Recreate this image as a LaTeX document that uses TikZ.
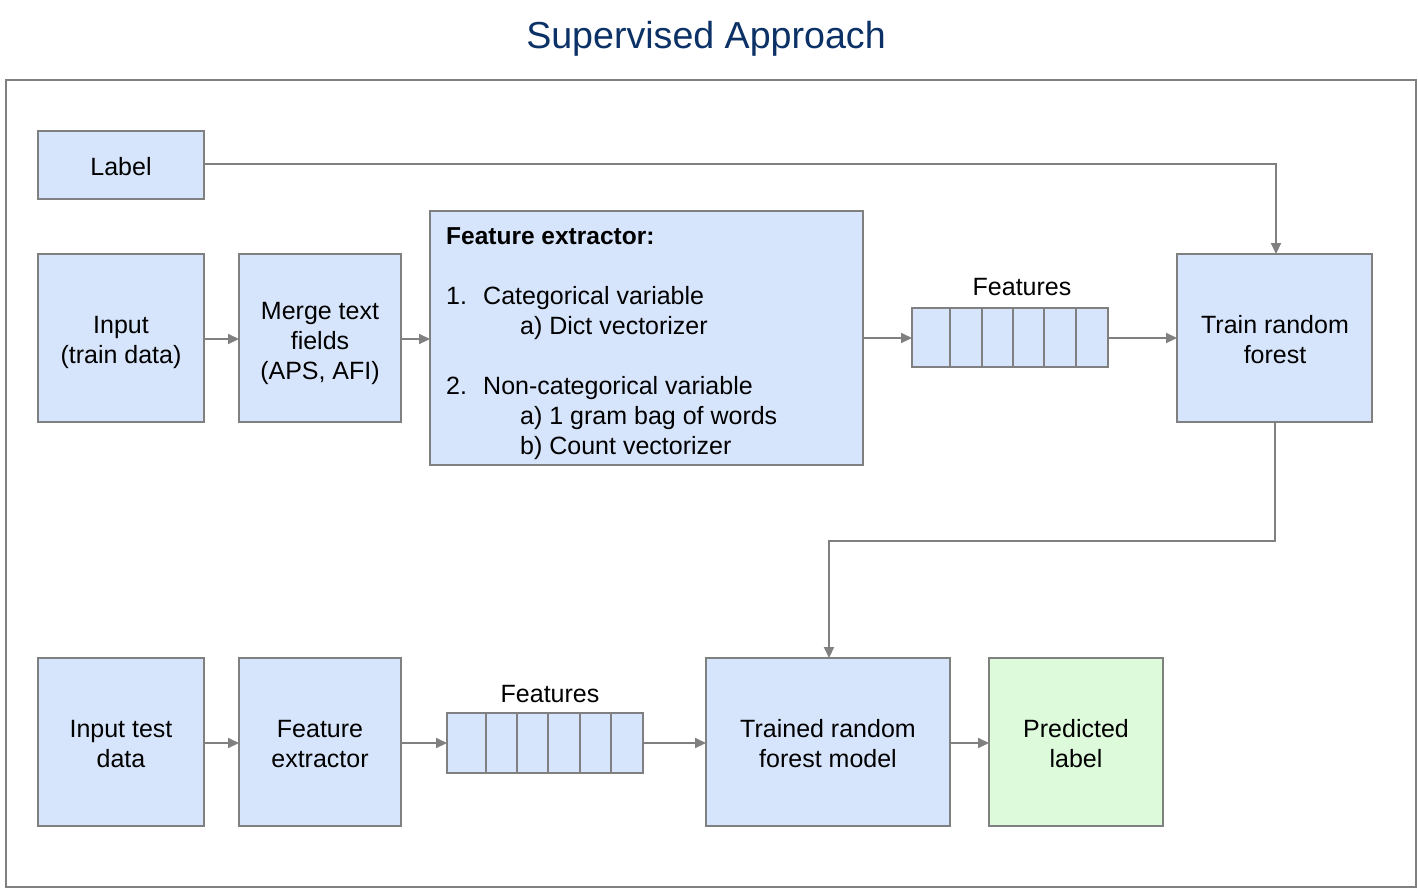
\documentclass[tikz,border=0pt]{standalone}
\usepackage{fontspec}
\setmainfont{Liberation Sans}
\usetikzlibrary{arrows.meta}
\definecolor{boxblue}{HTML}{D7E5FC}
\definecolor{boxgreen}{HTML}{DDFADB}
\definecolor{linegray}{HTML}{808080}
\definecolor{titleblue}{HTML}{0B3166}
\tikzset{
  box/.style={draw=linegray, line width=2pt, fill=boxblue, inner sep=0pt},
  gbox/.style={draw=linegray, line width=2pt, fill=boxgreen, inner sep=0pt},
  cell/.style={draw=linegray, line width=2pt, fill=boxblue},
  txt/.style={font=\fontsize{25}{30}\selectfont, align=center, inner sep=0pt},
  ltxt/.style={font=\fontsize{25}{30}\selectfont, anchor=base west, inner sep=0pt},
  conn/.style={draw=linegray, line width=2pt, -{Triangle[length=11pt,width=10pt]}},
}
\begin{document}
\begin{tikzpicture}[x=1pt,y=-1pt]
\useasboundingbox (0,0) rectangle (1418,889);
% title
\node[font=\fontsize{37.6}{40}\selectfont, text=titleblue, inner sep=0pt] (title) at (706,39) {Supervised Approach};
% frame
\draw[draw=linegray, line width=2pt] (6,80) rectangle (1416,887);
% top boxes
\draw[box] (38,131) rectangle (204,199);
\node[txt] (label) at (121,167) {Label};
\coordinate (labelR) at (204,164);
\draw[box] (38,254) rectangle (204,422);
\node[txt] (input) at (121,342) {Input\\(train data)};
\draw[box] (239,254) rectangle (401,422);
\node[txt] (merge) at (320,343) {Merge text\\fields\\(APS, AFI)};
\draw[box] (430,211) rectangle (863,465);
\node[ltxt, font=\fontsize{24.5}{26}\selectfont\bfseries] (fe0) at (446,244) {Feature extractor:};
\node[ltxt] (fe1n) at (446,304) {1.};
\node[ltxt] (fe1) at (483,304) {Categorical variable};
\node[ltxt] (fe1a) at (520,334) {a) Dict vectorizer};
\node[ltxt] (fe2n) at (446,394) {2.};
\node[ltxt] (fe2) at (483,394) {Non-categorical variable};
\node[ltxt] (fe2a) at (520,424) {a) 1 gram bag of words};
\node[ltxt] (fe2b) at (520,454) {b) Count vectorizer};
% features array top
\foreach \a/\b in {912/950,950/982,982/1013,1013/1044,1044/1076,1076/1108}
  \draw[cell] (\a,308) rectangle (\b,367);
\node[txt] (featT) at (1022,287) {Features};
\draw[box] (1177,254) rectangle (1372,422);
\node[txt] (train) at (1275,340) {Train random\\forest};
% bottom boxes
\draw[box] (38,658) rectangle (204,826);
\node[txt] (inputtest) at (121,744) {Input test\\data};
\draw[box] (239,658) rectangle (401,826);
\node[txt] (fext) at (320,744) {Feature\\extractor};
\foreach \a/\b in {447/486,486/517,517/548,548/580,580/611,611/643}
  \draw[cell] (\a,713) rectangle (\b,773);
\node[txt] (featB) at (550,694) {Features};
\draw[box] (706,658) rectangle (950,826);
\node[txt] (model) at (828,744) {Trained random\\forest model};
\draw[gbox] (989,658) rectangle (1163,826);
\node[txt] (pred) at (1076,744) {Predicted\\label};
% connectors
\draw[conn] (204,339) -- (239,339);
\draw[conn] (401,339) -- (430,339);
\draw[conn] (863,338) -- (912,338);
\draw[conn] (1108,338) -- (1177,338);
\draw[conn] (labelR) -- (1276,164) -- (1276,254);
\draw[conn] (1275,422) -- (1275,541) -- (829,541) -- (829,658);
\draw[conn] (204,743) -- (239,743);
\draw[conn] (401,743) -- (447,743);
\draw[conn] (643,743) -- (706,743);
\draw[conn] (950,743) -- (989,743);
\end{tikzpicture}
\end{document}
